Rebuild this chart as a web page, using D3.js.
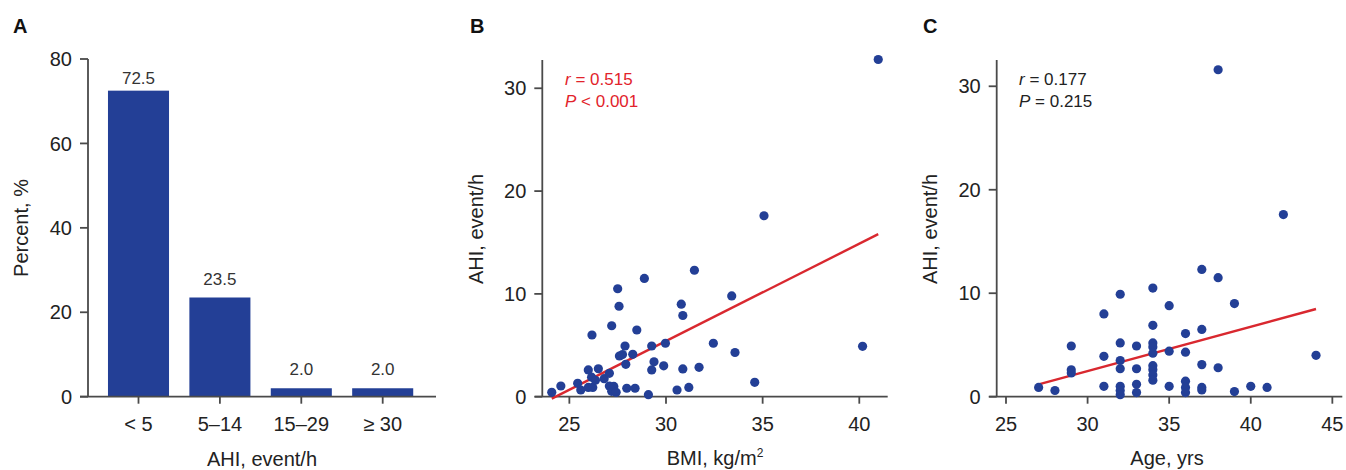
<!DOCTYPE html>
<html><head><meta charset="utf-8">
<script src="https://cdn.jsdelivr.net/npm/d3@7"></script>
<style>
body{margin:0;background:#fff}
text{font-family:"Liberation Sans",Arial,sans-serif}
</style>
</head><body>
<svg id="chart" width="1346" height="470"></svg>
<script>
// ---------- Panel A data ----------
const ahiCategories = ["< 5", "5–14", "15–29", "≥ 30"];
const ahiPercent = [72.5, 23.5, 2.0, 2.0];
const percentTicks = [0, 20, 40, 60, 80];

// ---------- Panel B data (BMI vs AHI) ----------
const bmiValues = [24.09,24.56,25.43,25.59,25.98,25.98,26.15,26.17,26.21,26.35,26.50,26.80,27.07,27.07,27.19,27.19,27.30,27.42,27.50,27.57,27.59,27.75,27.88,27.92,27.97,28.28,28.40,28.49,28.88,29.09,29.26,29.26,29.38,29.88,29.97,30.57,30.79,30.87,30.87,31.18,31.47,31.71,32.45,33.40,33.57,34.59,35.07,40.17,40.98];
const bmiAhi    = [0.43,1.04,1.30,0.65,2.60,0.90,1.90,6.0,0.90,1.6,2.72,1.75,2.27,1.04,6.9,0.52,1.0,0.43,10.5,8.8,3.96,4.1,4.93,3.15,0.82,4.12,0.82,6.49,11.5,0.2,4.93,2.6,3.4,3.0,5.2,0.65,9.0,7.9,2.7,0.9,12.3,2.86,5.2,9.8,4.3,1.4,17.6,4.9,32.8];
const bmiTicks = [25, 30, 35, 40];
const bmiFit = {slope: 0.947, intercept: -23.0};
const bmiStat = {r: "0.515", p: "< 0.001"};

// ---------- Panel C data (Age vs AHI) ----------
const ageValues = [27,28,29,29,29,31,31,31,32,32,32,32,32,32,32,33,33,33,33,34,34,34,34,34,34,34,34,34,35,35,35,36,36,36,36,36,37,37,37,37,37,38,38,38,39,39,40,41,42,44];
const ageAhi    = [0.9,0.6,4.9,2.6,2.3,8.0,3.9,1.0,9.9,5.2,3.5,2.7,1.0,0.6,0.2,4.9,2.7,1.2,0.4,10.5,6.9,5.2,4.8,4.2,3.0,2.6,2.1,1.6,8.8,4.4,1.0,6.1,4.3,1.5,0.9,0.4,12.3,6.5,3.1,0.9,0.65,31.6,11.5,2.8,9.0,0.5,1.0,0.9,17.6,4.0];
const ageTicks = [25, 30, 35, 40, 45];
const ageFit = {slope: 0.4288, intercept: -10.39};
const ageStat = {r: "0.177", p: "= 0.215"};

const ahiTicks = [0, 10, 20, 30];

// ---------- styles ----------
const BLUE = "#233f96", RED = "#d9282f", AXIS = "#4a4a4a", TXT = "#222";
const svg = d3.select("#chart");

function yAxis(g, y, x0, ticks) {
  g.append("line").attr("x1", x0).attr("x2", x0).attr("y1", y.range()[1]).attr("y2", y.range()[0])
    .attr("stroke", AXIS).attr("stroke-width", 1.8);
  const t = g.selectAll(".yt").data(ticks).join("g").attr("transform", d => `translate(0,${y(d)})`);
  t.append("line").attr("x1", x0 - 8).attr("x2", x0).attr("stroke", AXIS).attr("stroke-width", 1.8);
  t.append("text").attr("x", x0 - 16).attr("dy", "0.36em").attr("text-anchor", "end")
    .attr("font-size", 20).attr("fill", TXT).text(d => d);
}
function xAxisLine(g, y0, xStart, xEnd) {
  g.append("line").attr("x1", xStart).attr("x2", xEnd).attr("y1", y0).attr("y2", y0)
    .attr("stroke", AXIS).attr("stroke-width", 1.8);
}
function xTicks(g, y0, pos, labels) {
  const t = g.selectAll(".xt").data(labels).join("g").attr("transform", (d, i) => `translate(${pos(d, i)},${y0})`);
  t.append("line").attr("y1", 0).attr("y2", 7).attr("stroke", AXIS).attr("stroke-width", 1.8);
  t.append("text").attr("y", 34).attr("text-anchor", "middle").attr("font-size", 20).attr("fill", TXT).text(d => d);
}
function panelLetter(x, txt) {
  svg.append("text").attr("x", x).attr("y", 33).attr("font-size", 20).attr("font-weight", "bold")
    .attr("fill", "#111").text(txt);
}
function yTitle(x, cy, txt) {
  svg.append("text").attr("transform", `translate(${x},${cy}) rotate(-90)`).attr("text-anchor", "middle")
    .attr("font-size", 20).attr("fill", TXT).text(txt);
}

// ================= Panel A =================
{
  const g = svg.append("g");
  const y = d3.scaleLinear().domain([0, 80]).range([396.7, 59]);
  const x = d3.scaleBand().domain(ahiCategories).range([97.8, 423.4]).paddingInner(0.25).paddingOuter(0.125);
  g.selectAll("rect").data(ahiPercent).join("rect")
    .attr("x", (d, i) => x(ahiCategories[i])).attr("width", x.bandwidth())
    .attr("y", d => y(d)).attr("height", d => y(0) - y(d)).attr("fill", BLUE);
  g.selectAll(".val").data(ahiPercent).join("text")
    .attr("x", (d, i) => x(ahiCategories[i]) + x.bandwidth() / 2)
    .attr("y", d => Math.max(y(d) - 13, 83.5))
    .attr("text-anchor", "middle").attr("font-size", 17).attr("fill", "#333").text(d => d.toFixed(1));
  xAxisLine(g, 396.7, 80, 436);
  yAxis(g, y, 88, percentTicks);
  xTicks(g, 396.7, d => x(d) + x.bandwidth() / 2, ahiCategories);
  g.append("text").attr("x", 262).attr("y", 466).attr("text-anchor", "middle").attr("font-size", 20)
    .attr("fill", TXT).text("AHI, event/h");
  yTitle(28, 228, "Percent, %");
  panelLetter(13, "A");
}

function scatterPanel(opt) {
  const g = svg.append("g");
  const x = d3.scaleLinear().domain(opt.xDomain).range([opt.x0, opt.x1]);
  const y = d3.scaleLinear().domain(opt.yDomain).range([396.7, 60]);
  xAxisLine(g, 396.7, opt.x0 - 7.5, opt.x1);
  yAxis(g, y, opt.x0, ahiTicks);
  xTicks(g, 396.7, d => x(d), opt.ticks);
  const ext = d3.extent(opt.xs);
  g.append("line").attr("x1", x(ext[0])).attr("y1", y(opt.fit.intercept + opt.fit.slope * ext[0]))
    .attr("x2", x(ext[1])).attr("y2", y(opt.fit.intercept + opt.fit.slope * ext[1]))
    .attr("stroke", RED).attr("stroke-width", 2.4);
  g.selectAll("circle").data(opt.xs).join("circle")
    .attr("cx", d => x(d)).attr("cy", (d, i) => y(opt.ys[i])).attr("r", 4.6).attr("fill", BLUE);
  // stats
  const st = g.append("text").attr("x", opt.statX).attr("y", 85).attr("font-size", 17).attr("fill", opt.statColor);
  st.append("tspan").attr("font-style", "italic").text("r");
  st.append("tspan").text(" = " + opt.stat.r);
  const sp = g.append("text").attr("x", opt.statX).attr("y", 106.7).attr("font-size", 17).attr("fill", opt.statColor);
  sp.append("tspan").attr("font-style", "italic").text("P");
  sp.append("tspan").text(" " + opt.stat.p);
  return g;
}

// ================= Panel B =================
{
  const g = scatterPanel({
    xs: bmiValues, ys: bmiAhi, ticks: bmiTicks, fit: bmiFit, stat: bmiStat,
    xDomain: [23.6, 41.47], x0: 542.3, x1: 887.7, yDomain: [0, 32.75],
    statX: 565, statColor: "#e2232b"
  });
  const t = g.append("text").attr("x", 715).attr("y", 465).attr("text-anchor", "middle").attr("font-size", 20).attr("fill", TXT);
  t.append("tspan").text("BMI, kg/m");
  t.append("tspan").attr("font-size", 12).attr("dy", -8).text("2");
  yTitle(483, 229, "AHI, event/h");
  panelLetter(470, "B");
}

// ================= Panel C =================
{
  const g = scatterPanel({
    xs: ageValues, ys: ageAhi, ticks: ageTicks, fit: ageFit, stat: ageStat,
    xDomain: [24.43, 45.61], x0: 996.7, x1: 1342.3, yDomain: [0, 32.54],
    statX: 1019, statColor: "#222"
  });
  g.append("text").attr("x", 1167).attr("y", 465).attr("text-anchor", "middle").attr("font-size", 20)
    .attr("fill", TXT).text("Age, yrs");
  yTitle(937, 229, "AHI, event/h");
  panelLetter(923, "C");
}
</script>
</body></html>
